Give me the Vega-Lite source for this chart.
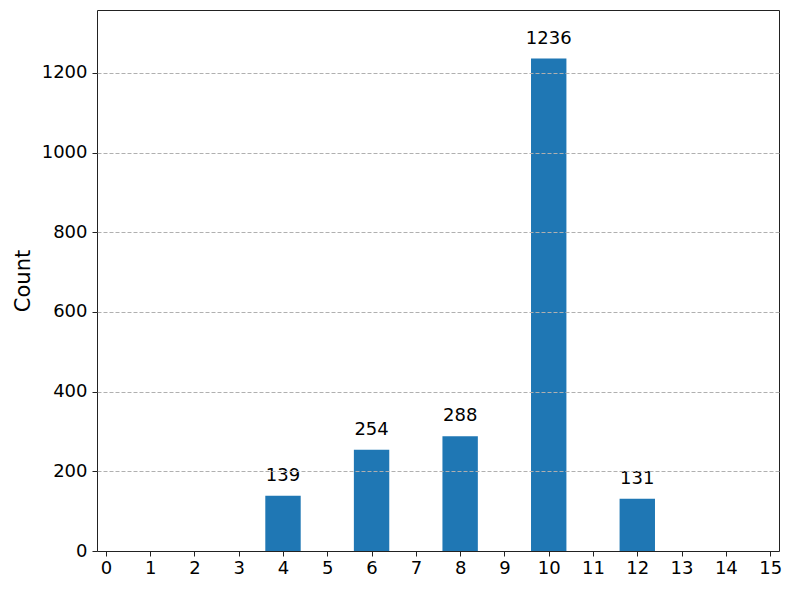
{
  "$schema": "https://vega.github.io/schema/vega-lite/v6.json",
  "width": 682,
  "height": 541,
  "autosize": {"type": "none"},
  "padding": {"left": 97, "top": 10, "right": 14, "bottom": 39},
  "background": "white",
  "config": {
    "font": "DejaVu Sans",
    "view": {"stroke": "#222222", "strokeWidth": 1}
  },
  "data": {
    "values": [
      {"value": 4, "count": 139},
      {"value": 6, "count": 254},
      {"value": 8, "count": 288},
      {"value": 10, "count": 1236},
      {"value": 12, "count": 131}
    ]
  },
  "encoding": {
    "x": {
      "field": "value", "type": "quantitative",
      "scale": {"domain": [-0.2, 15.2], "nice": false, "zero": false, "padding": 0},
      "axis": {
        "values": [0,1,2,3,4,5,6,7,8,9,10,11,12,13,14,15],
        "title": null, "grid": false, "domain": true, "domainColor": "#222222", "domainWidth": 1, "zindex": 2, "format": "d",
        "labelFontSize": 18, "labelColor": "black", "labelPadding": 3,
        "tickColor": "#222222", "tickSize": 5, "labelFlush": false
      }
    },
    "y": {
      "field": "count", "type": "quantitative",
      "scale": {"domain": [0, 1358], "nice": false},
      "axis": {
        "values": [0,200,400,600,800,1000,1200], "format": "d",
        "title": "Count", "titleFontSize": 21, "titleFontWeight": "normal", "titleColor": "black", "titlePadding": 8,
        "grid": true, "gridDash": [4, 2], "gridColor": "#b0b0b0", "gridWidth": 1,
        "domain": false, "zindex": 1,
        "labelFontSize": 18, "labelColor": "black", "labelPadding": 5,
        "tickColor": "#222222", "tickSize": 5, "labelFlush": false
      }
    }
  },
  "layer": [
    {"mark": {"type": "bar", "color": "#1f77b4", "size": 35.4}},
    {"mark": {"type": "text", "dy": -15, "fontSize": 18, "color": "black", "baseline": "alphabetic"}, "encoding": {"text": {"field": "count", "type": "quantitative"}}}
  ]
}
